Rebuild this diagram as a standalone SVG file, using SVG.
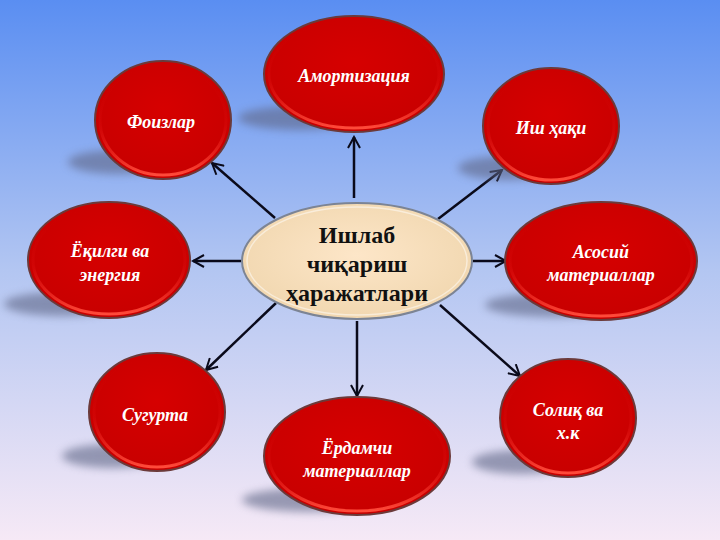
<svg xmlns="http://www.w3.org/2000/svg" width="720" height="540" viewBox="0 0 720 540">
<defs>
<linearGradient id="bg" x1="0" y1="0" x2="0" y2="1">
<stop offset="0" stop-color="#5a8ef2"/>
<stop offset="0.5" stop-color="#b3c6f2"/>
<stop offset="1" stop-color="#f6e9f6"/>
</linearGradient>
<radialGradient id="red" cx="0.5" cy="0.4" r="0.6">
<stop offset="0" stop-color="#d60000"/>
<stop offset="1" stop-color="#c80000"/>
</radialGradient>
<linearGradient id="rim" x1="0" y1="0" x2="0" y2="1">
<stop offset="0" stop-color="#c80000" stop-opacity="0"/>
<stop offset="0.55" stop-color="#e01010" stop-opacity="0.3"/>
<stop offset="1" stop-color="#ff4a3a"/>
</linearGradient>
<radialGradient id="cream" cx="0.5" cy="0.45" r="0.6">
<stop offset="0" stop-color="#fde6c8"/>
<stop offset="1" stop-color="#f0d6ae"/>
</radialGradient>
<filter id="blur" x="-50%" y="-50%" width="200%" height="200%">
<feGaussianBlur stdDeviation="4"/>
</filter>
<marker id="arr" viewBox="0 0 14 14" refX="12" refY="7" markerWidth="14" markerHeight="14" markerUnits="userSpaceOnUse" orient="auto">
<path d="M1,1 L12,7 L1,13" fill="none" stroke="#0a0a1a" stroke-width="2"/>
</marker>
</defs>
<style>
.sh{fill:#5e6686;opacity:0.6;filter:url(#blur)}
.rd{fill:url(#red);stroke:#6b3a3a;stroke-width:2}
.rm{fill:none;stroke:url(#rim);stroke-width:3}
.lb{font-family:"Liberation Serif","DejaVu Serif",serif;font-style:italic;font-weight:bold;font-size:18px;fill:#ffffff;text-anchor:middle}
.ct{font-family:"Liberation Serif","DejaVu Serif",serif;font-weight:bold;font-size:24px;fill:#111111;text-anchor:middle}
.cn{stroke:#0a0a1a;stroke-width:2.5;fill:none;marker-end:url(#arr)}
</style>
<rect x="0" y="0" width="720" height="540" fill="url(#bg)"/>
<g id="connectors">
<line class="cn" x1="354" y1="198" x2="354" y2="137"/>
<line class="cn" x1="275" y1="218" x2="212" y2="163"/>
<line class="cn" x1="438" y1="219" x2="502" y2="170"/>
<line class="cn" x1="241" y1="261" x2="193" y2="261"/>
<line class="cn" x1="473" y1="261" x2="506" y2="261"/>
<line class="cn" x1="276" y1="303" x2="206" y2="370"/>
<line class="cn" x1="357" y1="321" x2="357" y2="396"/>
<line class="cn" x1="440" y1="305" x2="520" y2="376"/>
</g>
<g id="n-amort">
<ellipse class="sh" cx="300" cy="118" rx="62" ry="12"/>
<ellipse class="rd" cx="354" cy="74" rx="90" ry="58"/>
<ellipse class="rm" cx="354" cy="74" rx="85" ry="54"/>
<text class="lb" x="354" y="82">Амортизация</text>
</g>
<g id="n-foiz">
<ellipse class="sh" cx="118" cy="162" rx="50" ry="12"/>
<ellipse class="rd" cx="163" cy="120" rx="68" ry="59"/>
<ellipse class="rm" cx="163" cy="120" rx="63" ry="55"/>
<text class="lb" x="161" y="128">Фоизлар</text>
</g>
<g id="n-ish">
<ellipse class="sh" cx="508" cy="168" rx="50" ry="12"/>
<ellipse class="rd" cx="551" cy="126" rx="68" ry="58"/>
<ellipse class="rm" cx="551" cy="126" rx="63" ry="54"/>
<text class="lb" x="551" y="134">Иш ҳақи</text>
</g>
<g id="n-yoqilgi">
<ellipse class="sh" cx="62" cy="304" rx="58" ry="12"/>
<ellipse class="rd" cx="109" cy="260" rx="81" ry="58"/>
<ellipse class="rm" cx="109" cy="260" rx="76" ry="54"/>
<text class="lb" x="110" y="257">Ёқилги ва</text>
<text class="lb" x="110" y="281">энергия</text>
</g>
<g id="n-asosiy">
<ellipse class="sh" cx="555" cy="305" rx="70" ry="12"/>
<ellipse class="rd" cx="601" cy="261" rx="96" ry="59"/>
<ellipse class="rm" cx="601" cy="261" rx="91" ry="55"/>
<text class="lb" x="601" y="258">Асосий</text>
<text class="lb" x="601" y="281">материаллар</text>
</g>
<g id="n-sugurta">
<ellipse class="sh" cx="112" cy="456" rx="50" ry="12"/>
<ellipse class="rd" cx="157" cy="412" rx="68" ry="59"/>
<ellipse class="rm" cx="157" cy="412" rx="63" ry="55"/>
<text class="lb" x="155" y="421">Сугурта</text>
</g>
<g id="n-yordamchi">
<ellipse class="sh" cx="310" cy="500" rx="68" ry="12"/>
<ellipse class="rd" cx="357" cy="456" rx="93" ry="59"/>
<ellipse class="rm" cx="357" cy="456" rx="88" ry="55"/>
<text class="lb" x="357" y="454">Ёрдамчи</text>
<text class="lb" x="357" y="477">материаллар</text>
</g>
<g id="n-soliq">
<ellipse class="sh" cx="522" cy="462" rx="50" ry="12"/>
<ellipse class="rd" cx="568" cy="418" rx="68" ry="59"/>
<ellipse class="rm" cx="568" cy="418" rx="63" ry="55"/>
<text class="lb" x="568" y="416">Солиқ ва</text>
<text class="lb" x="568" y="439">х.к</text>
</g>
<g id="n-center">
<ellipse cx="357" cy="261" rx="115" ry="58" fill="url(#cream)" stroke="#7c8494" stroke-width="2"/>
<ellipse cx="357" cy="261" rx="110" ry="54" fill="none" stroke="#ffffff" stroke-opacity="0.5" stroke-width="1.5"/>
<text class="ct" x="357" y="243">Ишлаб</text>
<text class="ct" x="357" y="272">чиқариш</text>
<text class="ct" x="357" y="301">ҳаражатлари</text>
</g>
</svg>
